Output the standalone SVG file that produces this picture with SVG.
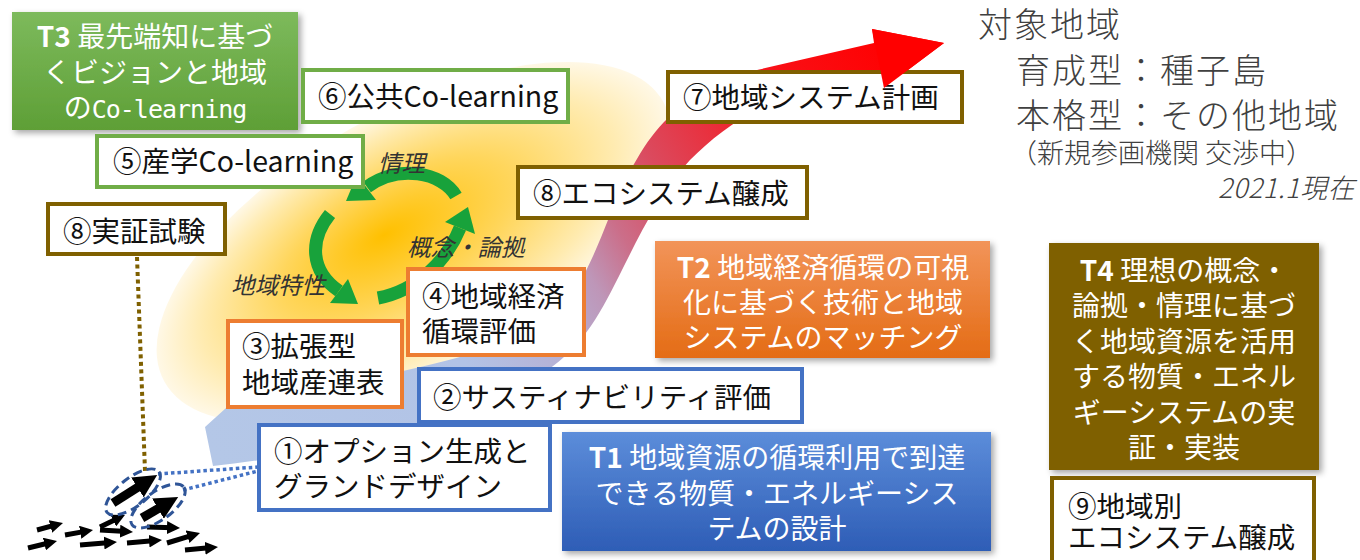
<svg xmlns="http://www.w3.org/2000/svg" width="1360" height="560" viewBox="0 0 1360 560">
<defs>
  <radialGradient id="ellG" cx="0.5" cy="0.5" r="0.5" fx="0.46" fy="0.42">
    <stop offset="0" stop-color="#FFC000"/>
    <stop offset="0.45" stop-color="#FFD65C"/>
    <stop offset="0.8" stop-color="#FFEBB0"/>
    <stop offset="1" stop-color="#FFF8E6"/>
  </radialGradient>
  <linearGradient id="ribG" gradientUnits="userSpaceOnUse" x1="210" y1="450" x2="900" y2="45">
    <stop offset="0" stop-color="#B4C7E7"/>
    <stop offset="0.33" stop-color="#B2C3E6"/>
    <stop offset="0.45" stop-color="#B6AFD3"/>
    <stop offset="0.52" stop-color="#BE96B8"/>
    <stop offset="0.58" stop-color="#CB6E89"/>
    <stop offset="0.66" stop-color="#DB4A5E"/>
    <stop offset="0.76" stop-color="#EC2A36"/>
    <stop offset="0.86" stop-color="#FA0E14"/>
    <stop offset="1" stop-color="#FF0000"/>
  </linearGradient>
  <linearGradient id="gT3" x1="0" y1="0" x2="0" y2="1">
    <stop offset="0" stop-color="#7DBA5C"/>
    <stop offset="1" stop-color="#5E9F36"/>
  </linearGradient>
  <linearGradient id="gT2" x1="0" y1="0" x2="0" y2="1">
    <stop offset="0" stop-color="#F29459"/>
    <stop offset="1" stop-color="#E46C15"/>
  </linearGradient>
  <linearGradient id="gT1" x1="0" y1="0" x2="0" y2="1">
    <stop offset="0" stop-color="#5C8DDA"/>
    <stop offset="1" stop-color="#2E5DB6"/>
  </linearGradient>
  <filter id="sh" x="-10%" y="-10%" width="130%" height="130%">
    <feDropShadow dx="3" dy="3" stdDeviation="3" flood-color="#000" flood-opacity="0.35"/>
  </filter>
  <marker id="ah" viewBox="0 0 10 10" refX="5" refY="5" markerWidth="2.6" markerHeight="2.6" orient="auto">
    <path d="M0,0 L10,5 L0,10 z" fill="#000"/>
  </marker>
</defs>
<style>
  text{font-family:'Noto Sans CJK JP','Noto Sans',sans-serif;}
  .bx{fill:#fff;stroke-width:4}
  .g{stroke:#70AD47}
  .br{stroke:#7F6000}
  .or{stroke:#ED7D31}
  .bl{stroke:#4472C4}
  .lb{font-size:28.5px;fill:#111}
  .wt{font-size:28px;fill:#fff;text-anchor:middle}
  .it{font-size:23.5px;font-style:italic;fill:#333}
  .rt{fill:#404040;font-weight:300}
  .cyc{fill:none;stroke:#18A23B;stroke-width:13}
  .cyh{fill:#18A23B}
  .sa{stroke:#000;stroke-width:5;marker-end:url(#ah)}
  .ba{stroke:#000;stroke-width:9;marker-end:url(#ah)}
</style>

<!-- background ellipse -->
<ellipse cx="414" cy="242" rx="286" ry="130" transform="rotate(-29.3 414 242)" fill="url(#ellG)"/>

<!-- ribbon arrow -->
<path id="ribbon" fill="url(#ribG)" d="M213,466 C320,455 470,420 545,372 C585,345 602,310 622,270 C642,230 662,190 690,160 C715,135 745,112 790,95 L879,72 L884,88 L944,43 L872,29 L874,43 L757,70 C720,80 690,98 668,118 C645,140 628,172 610,215 C594,255 580,292 552,318 C510,350 440,362 330,388 C280,400 240,404 226,408 L205,427 Z"/>

<!-- cycle arrows -->
<g id="cycle">
  <path class="cyc" d="M456,196 C442,172 398,164 367,187"/>
  <polygon class="cyh" points="376,200 357,175 346,201"/>
  <path class="cyc" d="M330,214 C309,240 310,271 339,291"/>
  <polygon class="cyh" points="330,303 348,279 358,304"/>
  <path class="cyc" d="M378,298 C416,291 446,262 460,228"/>
  <polygon class="cyh" points="475,234 445,222 468,207"/>
</g>
<text class="it" x="378" y="172">情理</text>
<text class="it" x="407" y="256">概念・論拠</text>
<text class="it" x="231" y="294">地域特性</text>

<!-- connectors -->
<g id="connectors">
  <line x1="137" y1="257" x2="145" y2="471" stroke="#7F6000" stroke-width="4" stroke-dasharray="4 3.5"/>
  <line x1="158" y1="474" x2="258" y2="467" stroke="#4472C4" stroke-width="3.5" stroke-dasharray="3.5 3"/>
  <line x1="183" y1="490" x2="258" y2="471" stroke="#4472C4" stroke-width="3.5" stroke-dasharray="3.5 3"/>
</g>

<!-- small arrows -->
<g id="agents">
  <line class="sa" x1="100" y1="527" x2="119.1" y2="517.8"/>
  <line class="sa" x1="37" y1="530" x2="56.7" y2="524.7"/>
  <line class="sa" x1="65" y1="535" x2="86.6" y2="531.1"/>
  <line class="sa" x1="100" y1="530" x2="126.5" y2="531.6"/>
  <line class="sa" x1="147" y1="527" x2="173.5" y2="527.8"/>
  <line class="sa" x1="28" y1="548" x2="50.7" y2="542.5"/>
  <line class="sa" x1="80" y1="545" x2="110.5" y2="542.5"/>
  <line class="sa" x1="127" y1="543" x2="155.5" y2="540.6"/>
  <line class="sa" x1="167" y1="543" x2="193.8" y2="534.9"/>
  <line class="sa" x1="185" y1="550" x2="211.5" y2="547.6"/>
  <line class="ba" x1="113" y1="503" x2="147.3" y2="481.2"/>
  <line class="ba" x1="142" y1="518" x2="168.1" y2="502.8"/>
  <ellipse cx="133" cy="492" rx="33" ry="14" transform="rotate(-38 133 492)" fill="none" stroke="#2F5597" stroke-width="3" stroke-dasharray="9 5"/>
  <ellipse cx="158" cy="506" rx="32" ry="14" transform="rotate(-36 158 506)" fill="none" stroke="#2F5597" stroke-width="3" stroke-dasharray="9 5"/>
</g>

<!-- T3 -->
<g id="T3">
  <rect x="12" y="12" width="286" height="118" fill="url(#gT3)" filter="url(#sh)"/>
  <text class="wt" x="155" y="47"><tspan font-weight="bold">T3</tspan> 最先端知に基づ</text>
  <text class="wt" x="155" y="83">くビジョンと地域</text>
  <text class="wt" x="155" y="118">の<tspan font-family="'DejaVu Sans Mono',monospace" font-size="25" letter-spacing="-1">Co-learning</tspan></text>
</g>

<g id="n6">
  <rect class="bx g" x="303" y="70" width="265" height="52"/>
  <text class="lb" x="318" y="107">⑥公共Co-learning</text>
</g>
<g id="n5">
  <rect class="bx g" x="97" y="136" width="266" height="51"/>
  <text class="lb" x="113" y="172">⑤産学Co-learning</text>
</g>
<g id="n8a">
  <rect class="bx br" x="48" y="204" width="177" height="50"/>
  <text class="lb" x="63" y="242">⑧実証試験</text>
</g>
<g id="n7">
  <rect class="bx br" x="668" y="72" width="294" height="50"/>
  <text class="lb" x="683" y="108">⑦地域システム計画</text>
</g>
<!-- arrowhead over box 7 -->
<polygon points="872,29 944,43 884,88" fill="#FF0000"/>
<g id="n8b">
  <rect class="bx br" x="518" y="167" width="289" height="51"/>
  <text class="lb" x="533" y="204">⑧エコシステム醸成</text>
</g>
<g id="n4">
  <rect class="bx or" x="408" y="269" width="176" height="86"/>
  <text class="lb" x="422" y="307">④地域経済</text>
  <text class="lb" x="422" y="342">循環評価</text>
</g>
<g id="n3">
  <rect class="bx or" x="228" y="321" width="174" height="86"/>
  <text class="lb" x="242" y="357">③拡張型</text>
  <text class="lb" x="242" y="393">地域産連表</text>
</g>
<g id="n2">
  <rect class="bx bl" x="419" y="369" width="383" height="53"/>
  <text class="lb" x="433" y="408">②サスティナビリティ評価</text>
</g>
<g id="n1">
  <rect class="bx bl" x="259" y="425" width="291" height="85"/>
  <text class="lb" x="274" y="462">①オプション生成と</text>
  <text class="lb" x="274" y="497">グランドデザイン</text>
</g>

<g id="T2">
  <rect x="655" y="241" width="335" height="117" fill="url(#gT2)" filter="url(#sh)"/>
  <text class="wt" x="823" y="278"><tspan font-weight="bold">T2</tspan> 地域経済循環の可視</text>
  <text class="wt" x="823" y="313">化に基づく技術と地域</text>
  <text class="wt" x="823" y="348">システムのマッチング</text>
</g>
<g id="T1">
  <rect x="562" y="432" width="429" height="119" fill="url(#gT1)" filter="url(#sh)"/>
  <text class="wt" x="777" y="468" font-size="28.5"><tspan font-weight="bold">T1</tspan> 地域資源の循環利用で到達</text>
  <text class="wt" x="777" y="504" font-size="28.5">できる物質・エネルギーシス</text>
  <text class="wt" x="777" y="539" font-size="28.5">テムの設計</text>
</g>
<g id="T4">
  <rect x="1049" y="243" width="270" height="227" fill="#7F6000" filter="url(#sh)"/>
  <text class="wt" x="1184" y="281"><tspan font-weight="bold">T4</tspan> 理想の概念・</text>
  <text class="wt" x="1184" y="316">論拠・情理に基づ</text>
  <text class="wt" x="1184" y="352">く地域資源を活用</text>
  <text class="wt" x="1184" y="387">する物質・エネル</text>
  <text class="wt" x="1184" y="423">ギーシステムの実</text>
  <text class="wt" x="1184" y="458">証・実装</text>
</g>
<g id="n9">
  <rect class="bx br" x="1052" y="478" width="262" height="95"/>
  <text class="lb" x="1068" y="517" font-size="28">⑨地域別</text>
  <text class="lb" x="1068" y="548" font-size="28">エコシステム醸成</text>
</g>

<g id="target">
  <text class="rt" x="978" y="37" font-size="34" letter-spacing="2">対象地域</text>
  <text class="rt" x="1016" y="83" font-size="34" letter-spacing="2">育成型：種子島</text>
  <text class="rt" x="1016" y="128" font-size="34" letter-spacing="2">本格型：その他地域</text>
  <text class="rt" x="1010" y="163" font-size="27">（新規参画機関 交渉中）</text>
  <text class="rt" x="1355" y="198" font-size="27" font-style="italic" letter-spacing="0.5" text-anchor="end">2021.1現在</text>
</g>
</svg>
